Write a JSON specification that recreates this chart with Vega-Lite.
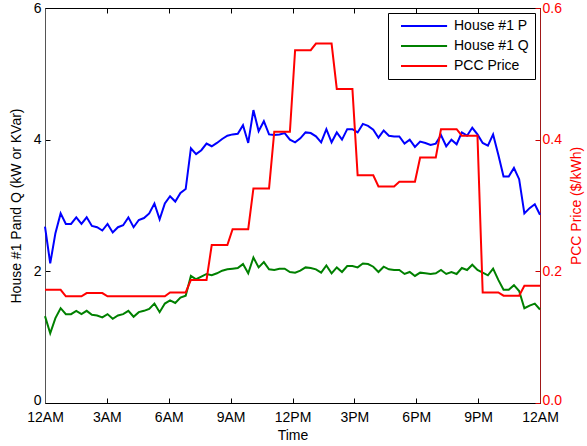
{
"$schema": "https://vega.github.io/schema/vega-lite/v6.json",
"width": 495, "height": 395,
"autosize": {"type": "none"},
"padding": {"left": 45, "top": 8, "right": 47, "bottom": 43},
"background": "white",
"config": {
  "font": "Liberation Sans",
  "view": {"stroke": "black", "strokeWidth": 1},
  "axis": {"labelFont": "Liberation Sans", "titleFont": "Liberation Sans", "labelFontSize": 14, "titleFontSize": 14, "titleFontWeight": "normal", "labelColor": "black", "titleColor": "black", "grid": false, "domainColor": "black", "tickColor": "black", "tickSize": -5, "labelPadding": 9, "labelFlush": false}
},
"data": {"values": [
{"t":0,"P":2.68,"Q":1.32,"Price":0.172},
{"t":0.253,"P":2.12,"Q":1.06,"Price":0.172},
{"t":0.505,"P":2.58,"Q":1.29,"Price":0.172},
{"t":0.758,"P":2.88,"Q":1.44,"Price":0.172},
{"t":1.011,"P":2.72,"Q":1.35,"Price":0.162},
{"t":1.263,"P":2.72,"Q":1.35,"Price":0.162},
{"t":1.516,"P":2.82,"Q":1.40,"Price":0.162},
{"t":1.768,"P":2.72,"Q":1.35,"Price":0.162},
{"t":2.021,"P":2.82,"Q":1.40,"Price":0.167},
{"t":2.274,"P":2.69,"Q":1.34,"Price":0.167},
{"t":2.526,"P":2.67,"Q":1.33,"Price":0.167},
{"t":2.779,"P":2.62,"Q":1.30,"Price":0.167},
{"t":3.032,"P":2.72,"Q":1.35,"Price":0.162},
{"t":3.284,"P":2.59,"Q":1.28,"Price":0.162},
{"t":3.537,"P":2.67,"Q":1.33,"Price":0.162},
{"t":3.789,"P":2.70,"Q":1.35,"Price":0.162},
{"t":4.042,"P":2.82,"Q":1.40,"Price":0.162},
{"t":4.295,"P":2.67,"Q":1.31,"Price":0.162},
{"t":4.547,"P":2.78,"Q":1.38,"Price":0.162},
{"t":4.8,"P":2.81,"Q":1.40,"Price":0.162},
{"t":5.053,"P":2.88,"Q":1.43,"Price":0.162},
{"t":5.305,"P":3.03,"Q":1.51,"Price":0.162},
{"t":5.558,"P":2.79,"Q":1.38,"Price":0.162},
{"t":5.811,"P":3.03,"Q":1.51,"Price":0.162},
{"t":6.063,"P":3.14,"Q":1.56,"Price":0.168},
{"t":6.316,"P":3.06,"Q":1.52,"Price":0.168},
{"t":6.568,"P":3.19,"Q":1.60,"Price":0.168},
{"t":6.821,"P":3.25,"Q":1.63,"Price":0.168},
{"t":7.074,"P":3.87,"Q":1.93,"Price":0.187},
{"t":7.326,"P":3.78,"Q":1.88,"Price":0.187},
{"t":7.579,"P":3.84,"Q":1.92,"Price":0.187},
{"t":7.832,"P":3.94,"Q":1.96,"Price":0.187},
{"t":8.084,"P":3.90,"Q":1.94,"Price":0.24},
{"t":8.337,"P":3.95,"Q":1.97,"Price":0.24},
{"t":8.589,"P":4.01,"Q":2.01,"Price":0.24},
{"t":8.842,"P":4.06,"Q":2.03,"Price":0.24},
{"t":9.095,"P":4.08,"Q":2.04,"Price":0.264},
{"t":9.347,"P":4.09,"Q":2.05,"Price":0.264},
{"t":9.6,"P":4.22,"Q":2.11,"Price":0.264},
{"t":9.853,"P":3.95,"Q":1.97,"Price":0.264},
{"t":10.105,"P":4.45,"Q":2.21,"Price":0.326},
{"t":10.358,"P":4.13,"Q":2.06,"Price":0.326},
{"t":10.611,"P":4.28,"Q":2.14,"Price":0.326},
{"t":10.863,"P":4.08,"Q":2.03,"Price":0.326},
{"t":11.116,"P":4.07,"Q":2.02,"Price":0.412},
{"t":11.368,"P":4.08,"Q":2.04,"Price":0.412},
{"t":11.621,"P":4.10,"Q":2.04,"Price":0.412},
{"t":11.874,"P":4.00,"Q":1.99,"Price":0.412},
{"t":12.126,"P":3.96,"Q":1.98,"Price":0.536},
{"t":12.379,"P":4.02,"Q":2.01,"Price":0.536},
{"t":12.632,"P":4.11,"Q":2.06,"Price":0.536},
{"t":12.884,"P":4.10,"Q":2.05,"Price":0.536},
{"t":13.137,"P":4.05,"Q":2.03,"Price":0.546},
{"t":13.389,"P":3.96,"Q":1.98,"Price":0.546},
{"t":13.642,"P":4.16,"Q":2.09,"Price":0.546},
{"t":13.895,"P":3.96,"Q":1.97,"Price":0.546},
{"t":14.147,"P":4.11,"Q":2.06,"Price":0.477},
{"t":14.4,"P":4.00,"Q":1.99,"Price":0.477},
{"t":14.653,"P":4.16,"Q":2.08,"Price":0.477},
{"t":14.905,"P":4.16,"Q":2.08,"Price":0.477},
{"t":15.158,"P":4.11,"Q":2.06,"Price":0.346},
{"t":15.411,"P":4.24,"Q":2.12,"Price":0.346},
{"t":15.663,"P":4.21,"Q":2.11,"Price":0.346},
{"t":15.916,"P":4.15,"Q":2.07,"Price":0.346},
{"t":16.168,"P":4.03,"Q":1.99,"Price":0.329},
{"t":16.421,"P":4.14,"Q":2.07,"Price":0.329},
{"t":16.674,"P":4.06,"Q":2.03,"Price":0.329},
{"t":16.926,"P":4.05,"Q":2.02,"Price":0.329},
{"t":17.179,"P":4.05,"Q":2.02,"Price":0.336},
{"t":17.432,"P":3.94,"Q":1.96,"Price":0.336},
{"t":17.684,"P":4.00,"Q":1.99,"Price":0.336},
{"t":17.937,"P":3.89,"Q":1.93,"Price":0.336},
{"t":18.189,"P":3.97,"Q":1.98,"Price":0.373},
{"t":18.442,"P":3.95,"Q":1.97,"Price":0.373},
{"t":18.695,"P":3.92,"Q":1.96,"Price":0.373},
{"t":18.947,"P":3.94,"Q":1.97,"Price":0.373},
{"t":19.2,"P":4.07,"Q":2.02,"Price":0.416},
{"t":19.453,"P":3.90,"Q":1.96,"Price":0.416},
{"t":19.705,"P":4.00,"Q":1.99,"Price":0.416},
{"t":19.958,"P":3.93,"Q":1.96,"Price":0.416},
{"t":20.211,"P":4.11,"Q":2.05,"Price":0.406},
{"t":20.463,"P":4.06,"Q":2.02,"Price":0.406},
{"t":20.716,"P":4.18,"Q":2.10,"Price":0.406},
{"t":20.968,"P":4.08,"Q":2.02,"Price":0.406},
{"t":21.221,"P":3.95,"Q":1.98,"Price":0.168},
{"t":21.474,"P":3.91,"Q":1.94,"Price":0.168},
{"t":21.726,"P":4.08,"Q":2.04,"Price":0.168},
{"t":21.979,"P":3.77,"Q":1.87,"Price":0.168},
{"t":22.232,"P":3.44,"Q":1.72,"Price":0.163},
{"t":22.484,"P":3.44,"Q":1.72,"Price":0.163},
{"t":22.737,"P":3.57,"Q":1.79,"Price":0.163},
{"t":22.989,"P":3.40,"Q":1.70,"Price":0.163},
{"t":23.242,"P":2.88,"Q":1.44,"Price":0.178},
{"t":23.495,"P":2.96,"Q":1.48,"Price":0.178},
{"t":23.747,"P":3.02,"Q":1.51,"Price":0.178},
{"t":24,"P":2.86,"Q":1.42,"Price":0.178}
]},
"layer": [
  {
    "transform": [{"fold": ["P", "Q"], "as": ["series", "val"]}],
    "mark": {"type": "line", "strokeWidth": 2},
    "encoding": {
      "x": {"field": "t", "type": "quantitative", "scale": {"domain": [0, 24], "nice": false},
        "axis": {"values": [0, 3, 6, 9, 12, 15, 18, 21, 24], "title": "Time", "titlePadding": 4, "labelPadding": 12, "labelFlush": false,
          "labelExpr": "datum.value == 0 || datum.value == 24 ? '12AM' : datum.value == 12 ? '12PM' : datum.value < 12 ? datum.value + 'AM' : (datum.value - 12) + 'PM'"}},
      "y": {"field": "val", "type": "quantitative", "scale": {"domain": [0, 6], "nice": false},
        "axis": {"values": [0, 2, 4, 6], "title": "House #1 Pand Q (kW or KVar)", "titlePadding": 10, "domainColor": "#555", "labelFlush": false,
          "labelOffset": {"condition": {"test": "datum.value == 0", "value": -3}, "value": 0}}},
      "color": {"field": "series", "type": "nominal",
        "scale": {"domain": ["P", "Q", "Price"], "range": ["#0000ff", "#008000", "#ff0000"]},
        "legend": {"orient": "top-right", "offset": 5, "title": null, "strokeColor": "black", "fillColor": "white", "padding": 6,
          "labelFontSize": 14, "labelFont": "Liberation Sans", "labelColor": "black", "symbolType": "M0,0H12", "symbolSize": 59, "symbolStrokeWidth": 2,
          "labelOffset": 46, "rowPadding": 6,
          "labelExpr": "datum.label == 'P' ? 'House #1 P' : datum.label == 'Q' ? 'House #1 Q' : 'PCC Price'"}}
    }
  },
  {
    "transform": [{"fold": ["Price"], "as": ["series", "val"]}],
    "mark": {"type": "line", "strokeWidth": 2},
    "encoding": {
      "x": {"field": "t", "type": "quantitative", "scale": {"domain": [0, 24], "nice": false},
        "axis": {"orient": "top", "values": [0, 3, 6, 9, 12, 15, 18, 21, 24], "labels": false, "title": null, "domain": false}},
      "y": {"field": "val", "type": "quantitative", "scale": {"domain": [0, 0.6], "nice": false},
        "axis": {"orient": "right", "values": [0, 0.2, 0.4, 0.6], "title": "PCC Price ($/kWh)", "titleColor": "#ff0000", "labelColor": "#ff0000", "titleAngle": 270,
          "domainColor": "#a01818", "tickColor": "#cc0000", "titlePadding": 22, "labelPadding": 7, "labelFlush": false,
          "labelOffset": {"condition": {"test": "datum.value == 0", "value": -3}, "value": 0}}},
      "color": {"field": "series", "type": "nominal"}
    }
  }
],
"resolve": {"scale": {"y": "independent"}, "axis": {"x": "independent"}}
}
